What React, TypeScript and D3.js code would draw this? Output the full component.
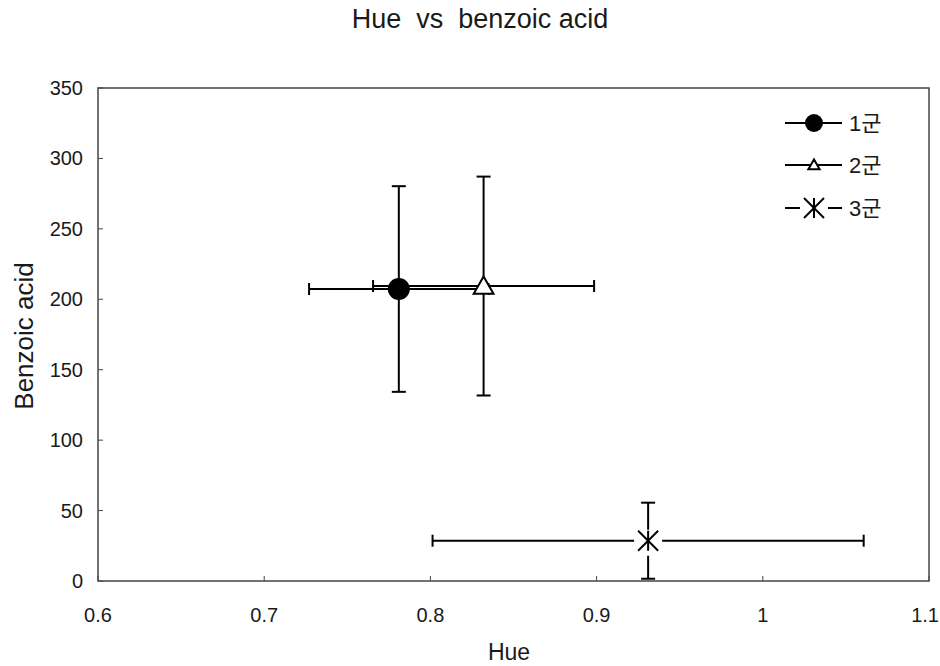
import React from "react";
import * as d3 from "d3";

const groups = ["1군", "2군", "3군"];
const hueMean = [0.781, 0.832, 0.931];
const hueErr = [0.054, 0.0665, 0.1297];
const acidMean = [207.3, 209.4, 28.6];
const acidErr = [73, 77.7, 27];
const xTicks = [0.6, 0.7, 0.8, 0.9, 1.0, 1.1];
const yTicks = [0, 50, 100, 150, 200, 250, 300, 350];
const title = "Hue  vs  benzoic acid";

const W = 940, H = 666;
const m = { left: 98, right: 929, top: 88, bottom: 581 };
const FONT = "'Liberation Sans', 'Noto Sans CJK KR', Arial, sans-serif";

export default function App() {
  const x = d3.scaleLinear().domain([0.6, 1.1]).range([m.left, m.right]);
  const y = d3.scaleLinear().domain([0, 350]).range([m.bottom, m.top]);
  const cap = 6;
  const tri = d3.symbol().type(d3.symbolTriangle).size(170)();
  const triSmall = d3.symbol().type(d3.symbolTriangle).size(55)();

  const errorBars = (i: number) => {
    const cx = x(hueMean[i]), cy = y(acidMean[i]);
    const x0 = x(hueMean[i] - hueErr[i]), x1 = x(hueMean[i] + hueErr[i]);
    const y0 = y(acidMean[i] - acidErr[i]), y1 = y(acidMean[i] + acidErr[i]);
    return (
      <g key={"e" + i} stroke="#000" strokeWidth={2} fill="none">
        <line x1={x0} x2={x1} y1={cy} y2={cy} />
        <line x1={x0} x2={x0} y1={cy - cap} y2={cy + cap} />
        <line x1={x1} x2={x1} y1={cy - cap} y2={cy + cap} />
        <line x1={cx} x2={cx} y1={y0} y2={y1} />
        <line x1={cx - cap - 1} x2={cx + cap + 1} y1={y0} y2={y0} />
        <line x1={cx - cap - 1} x2={cx + cap + 1} y1={y1} y2={y1} />
      </g>
    );
  };

  const marker = (i: number, cx: number, cy: number, legend = false) => {
    if (i === 0) return <circle cx={cx} cy={cy} r={legend ? 9 : 11} fill="#000" />;
    if (i === 1)
      return (
        <path d={legend ? triSmall : tri} transform={`translate(${cx},${cy + (legend ? 1 : 2)})`}
          fill="#fff" stroke="#000" strokeWidth={2} />
      );
    const s = 10;
    return (
      <g stroke="#000" strokeWidth={2}>
        {legend ? null : <rect x={cx - 14} y={cy - 11} width={28} height={26} fill="#fff" stroke="none" />}
        <line x1={cx - s} x2={cx + s} y1={cy - s} y2={cy + s} />
        <line x1={cx - s} x2={cx + s} y1={cy + s} y2={cy - s} />
        <line x1={cx} x2={cx} y1={cy - s} y2={cy + s} />
      </g>
    );
  };

  const legendY = [123, 165, 208];
  const last = xTicks.length - 1;

  return (
    <svg width={W} height={H} style={{ position: "absolute", left: 0, top: 0, background: "#fff" }}
      fontFamily={FONT} fill="#1a1a1a">
      <rect x={0} y={0} width={W} height={H} fill="#fff" />
      <text x={480} y={28} fontSize={27} textAnchor="middle" style={{ whiteSpace: "pre" }}>
        {title}
      </text>
      {/* ticks */}
      <g stroke="#444" strokeWidth={1}>
        {xTicks.map((t) => (
          <line key={"xt" + t} x1={x(t)} x2={x(t)} y1={m.bottom} y2={m.bottom - 5} />
        ))}
        {yTicks.map((t) => (
          <line key={"yt" + t} x1={m.left} x2={m.left + 5} y1={y(t)} y2={y(t)} />
        ))}
      </g>
      <rect x={m.left} y={m.top} width={m.right - m.left} height={m.bottom - m.top}
        fill="none" stroke="#444" strokeWidth={1.5} />
      {xTicks.map((t, i) => (
        <text key={"xl" + t} x={i === last ? x(t) + 10 : x(t)} y={622}
          textAnchor={i === last ? "end" : "middle"} fontSize={20}>
          {d3.format("~g")(t)}
        </text>
      ))}
      {yTicks.map((t) => (
        <text key={"yl" + t} x={83} y={y(t) + 7} textAnchor="end" fontSize={20}>
          {t}
        </text>
      ))}
      <text x={509} y={660} textAnchor="middle" fontSize={23}>Hue</text>
      <text transform={`translate(33,336) rotate(-90)`} textAnchor="middle" fontSize={26}>
        Benzoic acid
      </text>
      {groups.map((_, i) => errorBars(i))}
      {groups.map((_, i) => (
        <g key={"m" + i}>{marker(i, x(hueMean[i]), y(acidMean[i]))}</g>
      ))}
      {/* legend */}
      {groups.map((g, i) => (
        <g key={"lg" + i}>
          {i < 2 ? (
            <line x1={785} x2={842} y1={legendY[i]} y2={legendY[i]} stroke="#000" strokeWidth={2} />
          ) : (
            <g stroke="#000" strokeWidth={2}>
              <line x1={785} x2={800} y1={legendY[i]} y2={legendY[i]} />
              <line x1={828} x2={842} y1={legendY[i]} y2={legendY[i]} />
            </g>
          )}
          {marker(i, 814, legendY[i], true)}
          <text x={849} y={legendY[i] + 8} fontSize={22}>{g}</text>
        </g>
      ))}
    </svg>
  );
}
